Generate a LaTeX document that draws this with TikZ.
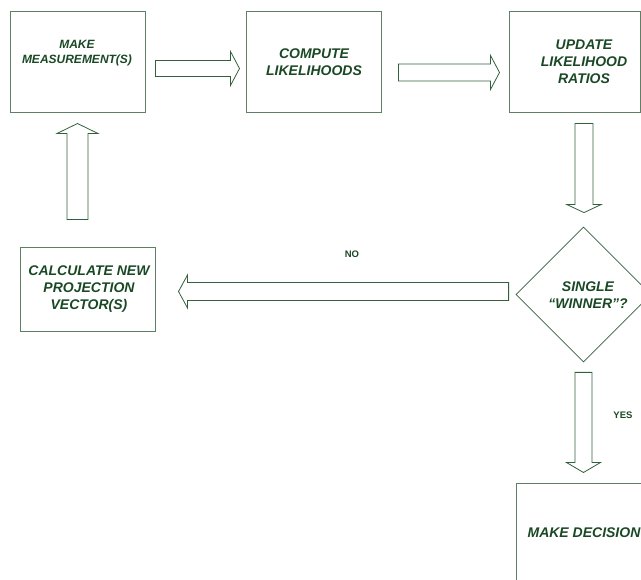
\documentclass[tikz,border=0pt]{standalone}
\usepackage{fontspec}
\setmainfont{Liberation Sans}
\usetikzlibrary{calc,shapes.geometric}
\definecolor{txtgreen}{RGB}{26,72,36}
\definecolor{boxgreen}{RGB}{95,128,100}
\definecolor{arrgreen}{RGB}{50,95,60}
\newcommand\blockarrow[5]{% start, end, shaft half, head half, head length (pt)
  \coordinate (hb) at ($(#2)!#5pt!(#1)$);
  \draw[arrline] ($(#1)!#3pt!90:(#2)$) -- ($(hb)!#3pt!-90:(#1)$) -- ($(hb)!#4pt!-90:(#1)$) -- (#2)
    -- ($(hb)!#4pt!90:(#1)$) -- ($(hb)!#3pt!90:(#1)$) -- ($(#1)!#3pt!-90:(#2)$) -- cycle;}
\begin{document}
\begin{tikzpicture}[x=1pt,y=-1pt,
  procbox/.style={draw=boxgreen, line width=1pt, rectangle, inner sep=0pt},
  btxt/.style={text=txtgreen, font=\bfseries\itshape\fontsize{14}{17}\selectfont, align=center, inner sep=0pt},
  stxt/.style={text=txtgreen, font=\bfseries\itshape\fontsize{12}{15}\selectfont, align=center, inner sep=0pt},
  lbl/.style={text=txtgreen, font=\bfseries\fontsize{9.5}{10}\selectfont, inner sep=0pt},
  arrline/.style={draw=arrgreen, line width=0.8pt, line join=miter}]
\useasboundingbox (0,0) rectangle (641,580);
\clip (0,0) rectangle (641,580);
% boxes
\node[procbox, minimum width=135pt, minimum height=101pt] (m) at (77.5,62.5) {};
\node[stxt] (mt) at (77,53.5) {MAKE\\MEASUREMENT(S)};
\node[procbox, minimum width=135pt, minimum height=101pt] (c) at (313.5,62.5) {};
\node[btxt] (ct) at (314,62) {COMPUTE\\LIKELIHOODS};
\node[procbox, minimum width=131pt, minimum height=101pt] (u) at (574.5,62.5) {};
\node[btxt] (ut) at (584,62) {UPDATE\\LIKELIHOOD\\RATIOS};
\node[procbox, minimum width=135pt, minimum height=84pt] (p) at (87.5,290) {};
\node[btxt] (pt) at (89,289) {CALCULATE NEW\\PROJECTION\\VECTOR(S)};
\node[draw=arrgreen, line width=0.8pt, diamond, minimum width=135pt, minimum height=135pt, inner sep=0pt] (d) at (583.5,294.5) {};
\node[btxt] (dt) at (588,295) {SINGLE\\“WINNER”?};
\node[procbox, minimum width=140pt, minimum height=98pt] (k) at (586,533) {};
\node[btxt] (kt) at (584,533) {MAKE DECISION};
% labels
\node[lbl] (no) at (352,254) {NO};
\node[lbl] (yes) at (623,415) {YES};
% connector endpoints
\coordinate (a1s) at ($(m.east)+(10,6)$);
\coordinate (a1e) at ($(c.west)+(-6,6)$);
\coordinate (a2s) at ($(c.east)+(17,10)$);
\coordinate (a2e) at ($(u.west)+(-9,10)$);
\coordinate (a3s) at ($(u.south)+(9.5,10)$);
\coordinate (a3e) at ($(d.north)+(0.5,-14)$);
\coordinate (a4s) at ($(d.west)+(-7,-3)$);
\coordinate (a4e) at ($(p.east)+(23,1.5)$);
\coordinate (a5s) at ($(p.north)+(-10,-28)$);
\coordinate (a5e) at ($(m.south)+(0,10)$);
\coordinate (a6s) at ($(d.south)+(0,10)$);
\coordinate (a6e) at ($(k.north)+(-2.5,-11)$);
\blockarrow{a1s}{a1e}{8}{17}{9}
\blockarrow{a2s}{a2e}{8.5}{17}{9}
\blockarrow{a3s}{a3e}{9}{17}{8}
\blockarrow{a4s}{a4e}{9}{16.5}{9}
\blockarrow{a5s}{a5e}{10.5}{20.5}{10}
\blockarrow{a6s}{a6e}{8.5}{17}{10}
\end{tikzpicture}
\end{document}
